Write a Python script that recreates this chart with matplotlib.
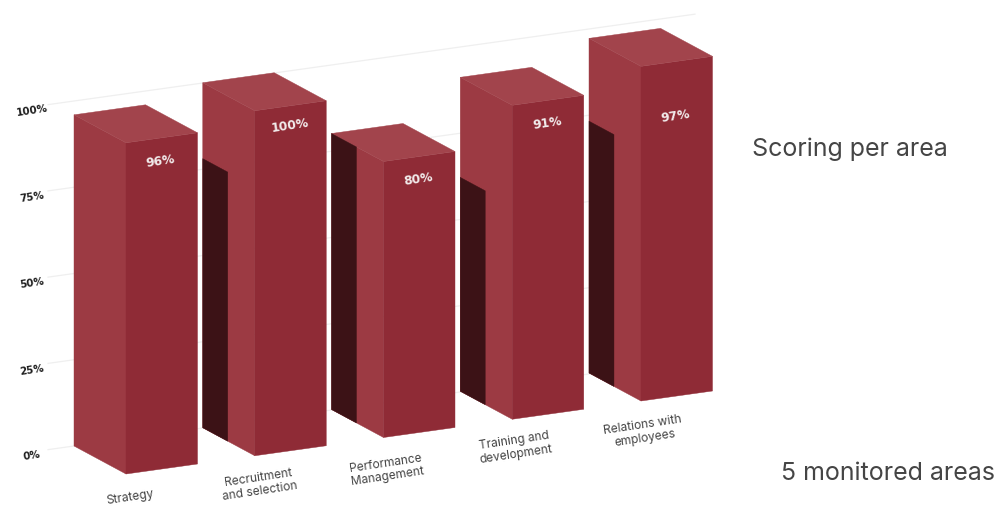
import matplotlib
matplotlib.use("Agg")
import matplotlib.pyplot as plt
from matplotlib.patches import Polygon

# Scores per monitored area
categories = ["Strategy", "Recruitment\nand selection", "Performance\nManagement",
              "Training and\ndevelopment", "Relations with\nemployees"]
scores = [96, 100, 80, 91, 97]
tick_values = [0, 25, 50, 75, 100]

# Isometric layout, in figure pixels
PX_PER_POINT = 3.45
BASE_X, BASE_Y = 74.0, 446.0
STEP_X, STEP_Y = 128.75, -18.25
DEPTH = (52.0, 28.0)      # left corner to front corner
WIDTH = (71.5, -10.0)     # front corner to right corner
SHADOW_DROP = 18          # shadow cast on the next bar, in score points
SHADOW_FRACTION = 0.48    # share of the left face that falls in shadow

TOP_COLOR = "#A2444C"
LEFT_COLOR = "#9C3A43"
RIGHT_COLOR = "#8F2B36"
SHADOW_COLOR = "#3C1216"
GRID_COLOR = "#EFEFEF"
TEXT_COLOR = "#454545"
ANGLE = 8.5
GRID_X0, GRID_X1 = 48, 695

label_xy = [(160, 161), (290, 126), (418, 179), (547, 123), (675, 116)]
category_xy = [(130, 498), (259, 485), (387, 470), (515, 448), (644, 432)]
tick_label_x = 32

fig = plt.figure(figsize=(10.01, 5.07), dpi=100)
ax = fig.add_axes([0, 0, 1, 1])
ax.set_xlim(0, 1001)
ax.set_ylim(507, 0)
ax.axis("off")


def level(score):
    return score * PX_PER_POINT


# Gridlines run along the floor direction behind the bars
slope = WIDTH[1] / WIDTH[0]
for t in tick_values:
    y_at_axis = BASE_Y + slope * (GRID_X0 - BASE_X) - level(t)
    y_end = y_at_axis + slope * (GRID_X1 - GRID_X0)
    ax.plot([GRID_X0, GRID_X1], [y_at_axis, y_end], color=GRID_COLOR, lw=0.9, zorder=1)
    ax.text(tick_label_x, y_at_axis + 6.5, f"{t}%", rotation=ANGLE, rotation_mode="anchor",
            ha="center", va="center", fontsize=7.4, fontweight="bold",
            family="DejaVu Sans", color="#1E1E1E", zorder=3)

for i, (name, score) in enumerate(zip(categories, scores)):
    lx, ly = BASE_X + STEP_X * i, BASE_Y + STEP_Y * i
    h = level(score)
    fx, fy = lx + DEPTH[0], ly + DEPTH[1]
    rx, ry = fx + WIDTH[0], fy + WIDTH[1]
    bx, by = lx + WIDTH[0], ly + WIDTH[1]

    left = [(lx, ly), (fx, fy), (fx, fy - h), (lx, ly - h)]
    right = [(fx, fy), (rx, ry), (rx, ry - h), (fx, fy - h)]
    top = [(lx, ly - h), (bx, by - h), (rx, ry - h), (fx, fy - h)]
    ax.add_patch(Polygon(left, closed=True, fc=LEFT_COLOR, ec=LEFT_COLOR, lw=0.3, zorder=2))
    ax.add_patch(Polygon(right, closed=True, fc=RIGHT_COLOR, ec=RIGHT_COLOR, lw=0.3, zorder=2))
    ax.add_patch(Polygon(top, closed=True, fc=TOP_COLOR, ec=TOP_COLOR, lw=0.3, zorder=2))

    # The previous bar throws a shadow across this bar's left face
    if i > 0:
        sh = level(min(scores[i - 1] - SHADOW_DROP, score))
        sx, sy = lx + DEPTH[0] * SHADOW_FRACTION, ly + DEPTH[1] * SHADOW_FRACTION
        shadow = [(lx, ly), (sx, sy), (sx, sy - sh), (lx, ly - sh)]
        ax.add_patch(Polygon(shadow, closed=True, fc=SHADOW_COLOR, ec=SHADOW_COLOR, lw=0.3, zorder=2.5))

    vx, vy = label_xy[i]
    ax.text(vx, vy, f"{score}%", rotation=ANGLE, rotation_mode="anchor",
            ha="center", va="center", fontsize=8.8, fontweight="bold",
            family="DejaVu Sans", color="#F2ECEC", zorder=4)

    cx, cy = category_xy[i]
    ax.text(cx, cy, name, rotation=ANGLE, rotation_mode="anchor", ha="center", va="center",
            multialignment="center", fontsize=8.6, linespacing=1.2,
            family="Inter", color=TEXT_COLOR, zorder=4)

ax.text(752, 149.5, "Scoring per area", ha="left", va="center", fontsize=18,
        family="Inter", color=TEXT_COLOR)
ax.text(781, 473, "5 monitored areas", ha="left", va="center", fontsize=18,
        family="Inter", color=TEXT_COLOR)

fig.savefig("out.png", dpi=100, facecolor="white")
